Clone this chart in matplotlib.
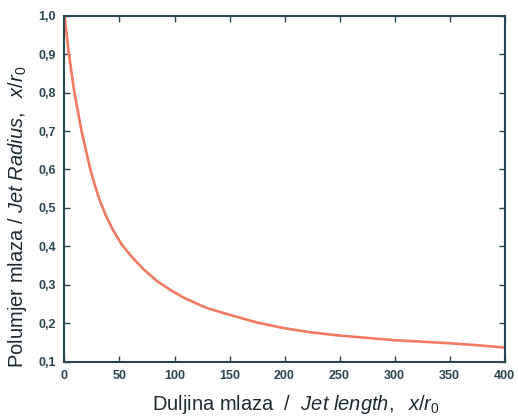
import matplotlib
matplotlib.use("Agg")
import matplotlib.pyplot as plt
from matplotlib.ticker import FuncFormatter, MultipleLocator

plt.rcParams["font.family"] = ["Liberation Sans", "DejaVu Sans"]
plt.rcParams["mathtext.fontset"] = "custom"
plt.rcParams["mathtext.rm"] = "Liberation Sans"
plt.rcParams["mathtext.it"] = "Liberation Sans:italic"

# jet radius vs. distance from nozzle, both scaled by r0
jet_length = [0, 2, 4, 9, 15.5, 23.5, 27.5, 32, 38, 44, 52, 62, 72, 84, 96, 108,
              129, 150, 175, 200, 225, 250, 275, 300, 325, 350, 375, 400]
jet_radius = [1.0, 0.95, 0.9, 0.8, 0.7, 0.6, 0.56, 0.52, 0.478, 0.443, 0.405, 0.37,
              0.34, 0.31, 0.287, 0.267, 0.24, 0.222, 0.202, 0.187, 0.176, 0.168,
              0.162, 0.156, 0.152, 0.148, 0.143, 0.137]

axis_col = "#2c4650"
text_col = "#1e2a30"

fig = plt.figure(figsize=(5.18, 4.16), dpi=100)
ax = fig.add_axes([0.1245, 0.1305, 0.8495, 0.8318])

ax.plot(jet_length, jet_radius, color="#f27a62", lw=1.9, solid_capstyle="round")

ax.set_xlim(0, 400)
ax.set_ylim(0.1, 1.0)
ax.xaxis.set_major_locator(MultipleLocator(50))
ax.yaxis.set_major_locator(MultipleLocator(0.1))
ax.yaxis.set_major_formatter(FuncFormatter(lambda v, p: f"{v:.1f}".replace(".", ",")))
ax.xaxis.set_major_formatter(FuncFormatter(lambda v, p: f"{v:.0f}"))

ax.tick_params(direction="in", length=4, width=1, color=axis_col,
               labelsize=9, labelcolor=axis_col, top=True, right=True)
ax.tick_params(axis="x", pad=6)
ax.tick_params(axis="y", pad=6)
for lab in ax.get_xticklabels() + ax.get_yticklabels():
    lab.set_fontweight("bold")

for s in ax.spines.values():
    s.set_color(axis_col)
    s.set_linewidth(1.5)

ax.set_xlabel(r"Duljina mlaza  /  $\mathit{Jet\ length,\ \ x/r_0}$",
              fontsize=14.5, color=text_col)
ax.set_ylabel(r"Polumjer mlaza / $\mathit{Jet\ Radius,\ \ x/r_0}$",
              fontsize=14.5, color=text_col)
ax.xaxis.set_label_coords(0.526, -0.09)
ax.yaxis.set_label_coords(-0.08, 0.42)

fig.savefig("out.png", dpi=100, facecolor="white")
